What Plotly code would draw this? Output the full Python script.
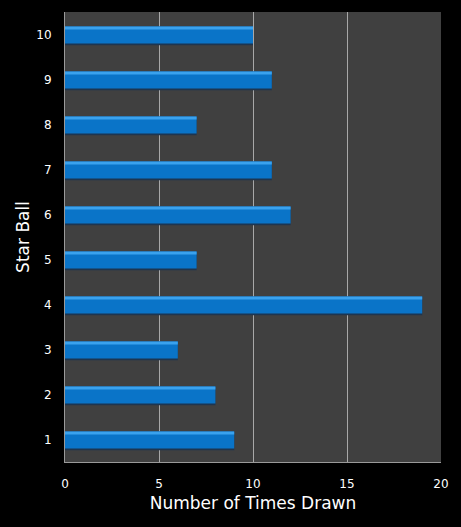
import plotly.graph_objects as go

balls = ["1", "2", "3", "4", "5", "6", "7", "8", "9", "10"]
times_drawn = [9, 8, 6, 19, 7, 12, 11, 7, 11, 10]
x_ticks = [0, 5, 10, 15, 20]

fig = go.Figure()
# shadow
fig.add_trace(go.Bar(
    y=balls, x=times_drawn, orientation="h", width=0.42, offset=-0.24,
    marker=dict(color="#1d3550", line=dict(width=0)), hoverinfo="skip", showlegend=False))
# main bar
fig.add_trace(go.Bar(
    y=balls, x=times_drawn, orientation="h", width=0.38, offset=-0.20,
    marker=dict(color="#0a74c8", line=dict(width=0)), showlegend=False))
# highlight on top edge
fig.add_trace(go.Bar(
    y=balls, x=times_drawn, orientation="h", width=0.07, offset=0.11,
    marker=dict(color="#3aa2ee", line=dict(width=0)), hoverinfo="skip", showlegend=False))

fig.update_layout(
    width=461, height=527,
    margin=dict(l=65, r=20, t=12, b=65),
    paper_bgcolor="#000000", plot_bgcolor="#404040",
    barmode="overlay",
    font=dict(family="DejaVu Sans", color="#ffffff", size=12),
    xaxis=dict(
        range=[0, 20], tickvals=x_ticks, showgrid=True, gridcolor="#a8a8a8", gridwidth=1,
        showline=True, linecolor="#9a9a9a", linewidth=1, zeroline=False,
        ticks="outside", ticklen=11, tickcolor="rgba(0,0,0,0)",
        tickfont=dict(size=12, color="#ffffff"),
        title=dict(text="Number of Times Drawn", font=dict(size=17, color="#ffffff"), standoff=6),
        fixedrange=True),
    yaxis=dict(
        categoryorder="array", categoryarray=balls, showgrid=False,
        showline=True, linecolor="#9a9a9a", linewidth=1,
        ticks="outside", ticklen=10, tickcolor="rgba(0,0,0,0)",
        tickfont=dict(size=12, color="#ffffff"),
        title=dict(text="Star Ball", font=dict(size=17, color="#ffffff"), standoff=2),
        fixedrange=True),
)

fig.write_html("out.html")
